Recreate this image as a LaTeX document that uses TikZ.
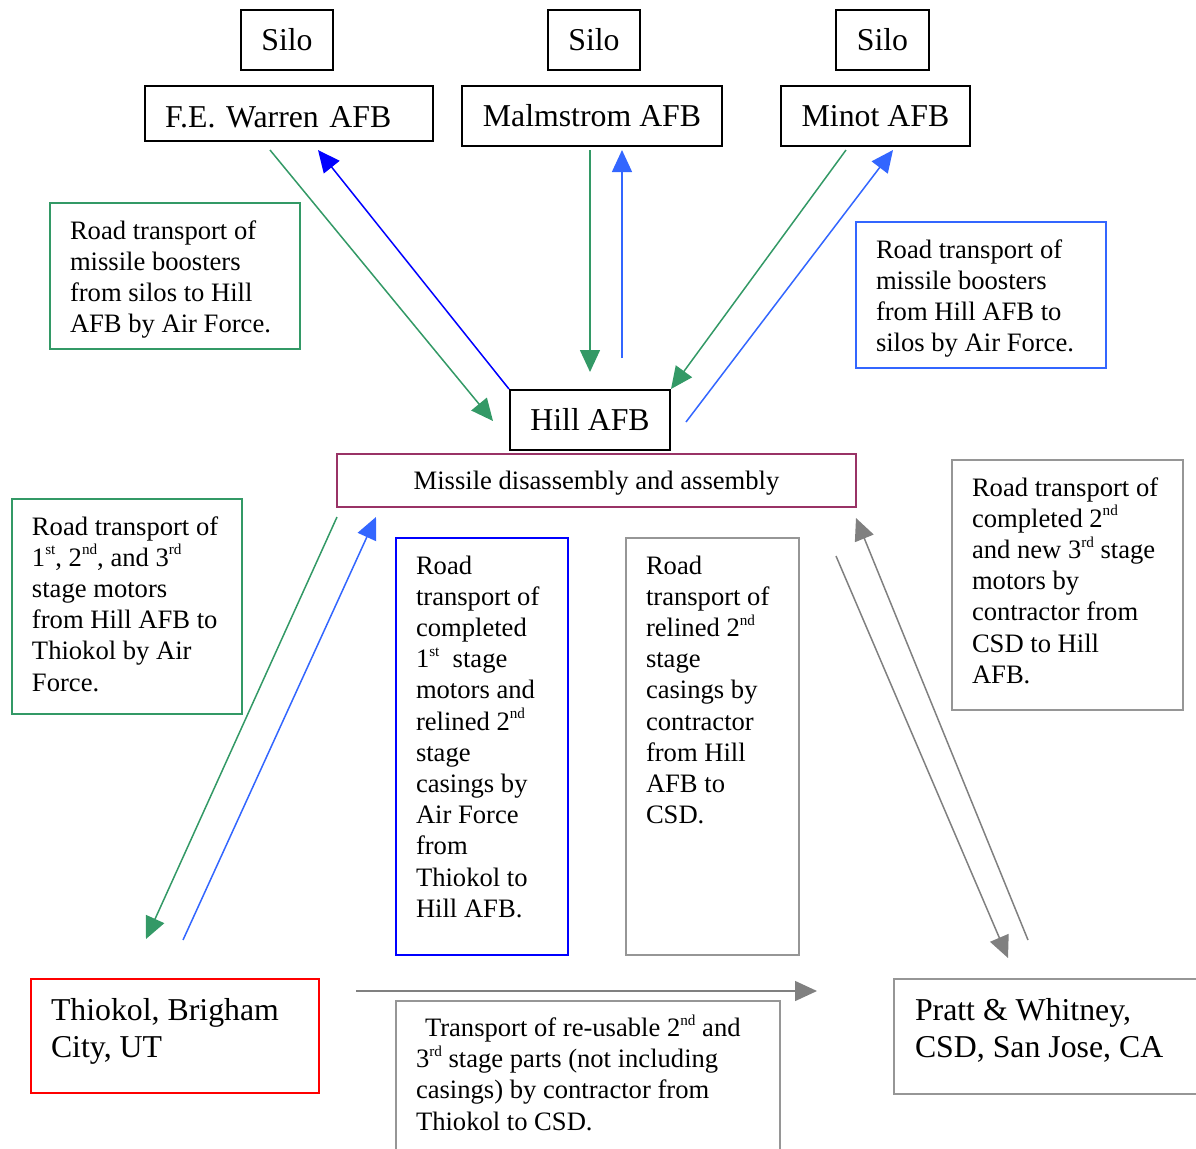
\documentclass[tikz,border=0pt]{standalone}
\usepackage{fontspec}
\setmainfont{Liberation Serif}
\usetikzlibrary{arrows.meta, calc}

\definecolor{docgreen}{RGB}{51,153,102}
\definecolor{docblue}{RGB}{0,0,255}
\definecolor{doclightblue}{RGB}{51,102,255}
\definecolor{docgray}{RGB}{128,128,128}
\definecolor{boxgray}{RGB}{150,150,150}
\definecolor{docplum}{RGB}{153,51,102}
\definecolor{docred}{RGB}{255,0,0}

\newcommand{\notesize}{\fontsize{13.3pt}{15.6pt}\selectfont}
\newcommand{\namesize}{\fontsize{15.9pt}{18.5pt}\selectfont}
\newcommand{\notetext}[3]{\parbox[t][#2][t]{#1}{\raggedright\strut #3}}
\newcommand{\ord}[1]{\raisebox{5.7pt}[0pt][0pt]{\fontsize{7.6pt}{7.6pt}\selectfont #1}}

\begin{document}
\frenchspacing
\begin{tikzpicture}[
  x=0.5pt, y=-0.5pt,
  namebox/.style={draw=black, line width=1pt, font=\namesize, inner sep=0pt,
    text height=10.5pt, text depth=0pt},
  notebox/.style={draw, line width=1pt, font=\notesize, anchor=north west,
    inner xsep=10pt, inner ysep=7.1pt},
  tip/.style={-{Triangle[length=11pt,width=10pt]}},
  greenedge/.style={draw=docgreen, line width=0.75pt, tip},
  blueedge/.style={draw=docblue, line width=0.75pt, tip},
  lightblueedge/.style={draw=doclightblue, line width=0.75pt, tip},
  grayedge/.style={draw=docgray, line width=0.75pt, tip}
]
\useasboundingbox (0,0) rectangle (1196,1148);

% silos and bases
\node[namebox, minimum width=46pt, minimum height=30pt] (silo1) at (287,40) {Silo};
\node[namebox, minimum width=46pt, minimum height=30pt] (silo2) at (594,40) {Silo};
\node[namebox, minimum width=46.5pt, minimum height=30pt] (silo3) at (882.5,40) {Silo};

\node[namebox, minimum width=144pt, minimum height=27.5pt, text width=124pt, align=left,
  text height=13.8pt] (warren) at (289,113.5) {F.E. Warren AFB};
\node[namebox, minimum width=130pt, minimum height=30pt] (malmstrom) at (592,116) {Malmstrom AFB};
\node[namebox, minimum width=94.5pt, minimum height=30pt] (minot) at (875.5,116) {Minot AFB};

\node[namebox, minimum width=80pt, minimum height=30pt] (hill) at (590,420) {Hill AFB};
\node[draw=docplum, line width=1pt, font=\notesize, minimum width=259.5pt,
  minimum height=26.5pt, inner sep=0pt, text depth=0pt] (assembly) at (596.5,480.5)
  {Missile disassembly and assembly};

% notes
\node[notebox, draw=docgreen] (silonote) at (49,202)
  {\notetext{105pt}{58.8pt}{Road transport of\\missile boosters\\from silos to Hill\\AFB by Air Force.}};
\node[notebox, draw=doclightblue] (basenote) at (855,221)
  {\notetext{105pt}{58.8pt}{Road transport of\\missile boosters\\from Hill AFB to\\silos by Air Force.}};
\node[notebox, draw=docgreen] (motornote) at (11,498)
  {\notetext{95pt}{93.3pt}{Road transport of\\1\ord{st}, 2\ord{nd}, and 3\ord{rd}\\stage motors\\from Hill AFB to\\Thiokol by Air\\Force.}};
\node[notebox, draw=docblue] (returnnote) at (395,537)
  {\notetext{66pt}{194.3pt}{Road\\transport of\\completed\\1\ord{st}\ \ stage\\motors and\\relined 2\ord{nd}\\stage\\casings by\\Air Force\\from\\Thiokol to\\Hill AFB.}};
\node[notebox, draw=boxgray] (casingnote) at (625,537)
  {\notetext{66.5pt}{194.3pt}{Road\\transport of\\relined 2\ord{nd}\\stage\\casings by\\contractor\\from Hill\\AFB to\\CSD.}};
\node[notebox, draw=boxgray] (csdnote) at (951,459)
  {\notetext{95.5pt}{110.8pt}{Road transport of\\completed 2\ord{nd}\\and new 3\ord{rd} stage\\motors by\\contractor from\\CSD to Hill\\AFB.}};
\node[notebox, draw=boxgray, inner ysep=6.8pt] (partsnote) at (395,1000)
  {\notetext{172pt}{70pt}{\hspace*{4.5pt}Transport of re-usable 2\ord{nd} and\\3\ord{rd} stage parts (not including\\casings) by contractor from\\Thiokol to CSD.}};

% plants
\node[notebox, draw=docred, font=\namesize, inner ysep=8pt] (thiokol) at (30,978)
  {\notetext{124pt}{41pt}{Thiokol, Brigham\\City, UT}};
\node[notebox, draw=boxgray, font=\namesize, inner xsep=10.5pt, inner ysep=8pt] (pratt) at (893,978)
  {\notetext{140pt}{41.5pt}{Pratt \& Whitney,\\CSD, San Jose, CA}};

% arrow ends
\coordinate (warren-out) at (270,150);
\coordinate (hill-in-left) at (493,421);
\coordinate (warren-in) at (318,150);
\coordinate (malm-out) at (590,150);
\coordinate (hill-in-top) at (590,372);
\coordinate (hill-out-top) at (622,358);
\coordinate (malm-in) at (622,150);
\coordinate (minot-out) at (846,150);
\coordinate (hill-in-right) at (671,389);
\coordinate (hill-out-right) at (686,422);
\coordinate (minot-in) at (893,150);
\coordinate (asm-out-left) at (337,517);
\coordinate (thiokol-in) at (146,939);
\coordinate (thiokol-out) at (183,940);
\coordinate (asm-in-left) at (376,517);
\coordinate (asm-out-right) at (836,556);
\coordinate (pratt-in) at (1008,958);
\coordinate (pratt-out) at (1028,940);
\coordinate (asm-in-right) at (856,518);
\coordinate (thiokol-east) at (356,991);
\coordinate (pratt-west) at (817,991);

% transports
\draw[greenedge] (warren-out) -- (hill-in-left);
\draw[blueedge] (hill.north west) -- (warren-in);
\draw[greenedge] (malm-out) -- (hill-in-top);
\draw[lightblueedge] (hill-out-top) -- (malm-in);
\draw[greenedge] (minot-out) -- (hill-in-right);
\draw[lightblueedge] (hill-out-right) -- (minot-in);
\draw[greenedge] (asm-out-left) -- (thiokol-in);
\draw[lightblueedge] (thiokol-out) -- (asm-in-left);
\draw[grayedge] (asm-out-right) -- (pratt-in);
\draw[grayedge] (pratt-out) -- (asm-in-right);
\draw[grayedge] (thiokol-east) -- (pratt-west);

\end{tikzpicture}
\end{document}
